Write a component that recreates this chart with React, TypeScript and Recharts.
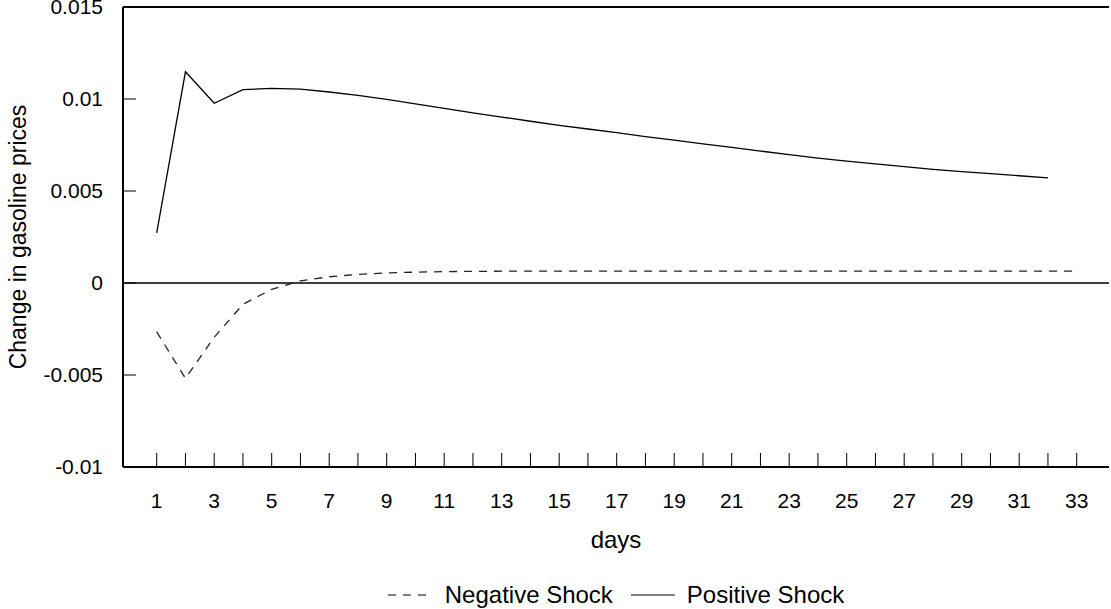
import { LineChart, Line, XAxis, YAxis, ReferenceLine, Legend } from "recharts"

const days = [1, 2, 3, 4, 5, 6, 7, 8, 9, 10, 11, 12, 13, 14, 15, 16, 17, 18, 19, 20, 21, 22, 23, 24, 25, 26, 27, 28, 29, 30, 31, 32, 33]

const negativeShock = [
  -0.00265, -0.00518, -0.00295, -0.00116, -0.00034, 0.00011, 0.00034, 0.00047, 0.00055, 0.00059,
  0.00062, 0.00063, 0.00064, 0.00064, 0.00065, 0.00065, 0.00065, 0.00065, 0.00065, 0.00065,
  0.00065, 0.00065, 0.00065, 0.00065, 0.00065, 0.00065, 0.00065, 0.00065, 0.00065, 0.00065,
  0.00065, 0.00065, 0.00065,
]

const positiveShock = [
  0.00272, 0.01148, 0.00977, 0.01051, 0.01058, 0.01054, 0.01038, 0.0102, 0.00998, 0.00974,
  0.00949, 0.00925, 0.00902, 0.00879, 0.00857, 0.00837, 0.00817, 0.00796, 0.00776, 0.00756,
  0.00737, 0.00717, 0.00698, 0.00679, 0.00662, 0.00647, 0.00632, 0.00618, 0.00605, 0.00594,
  0.00583, 0.00571,
]

const yTicks = [-0.01, -0.005, 0, 0.005, 0.01, 0.015]

const data = days.map((d, i) => ({
  day: d,
  negative: negativeShock[i],
  positive: positiveShock[i],
}))

const FONT = "'Liberation Sans', Arial, sans-serif"

const LegendContent = () => (
  <div
    style={{
      display: "flex",
      justifyContent: "center",
      alignItems: "center",
      fontFamily: FONT,
      fontSize: 24,
      color: "#000",
      height: 30,
    }}
  >
    <svg width={40} height={10} style={{ marginRight: 17 }}>
      <line x1={0} y1={5} x2={40} y2={5} stroke="#000" strokeWidth={1.2} strokeDasharray="8 7" />
    </svg>
    <span style={{ marginRight: 18 }}>Negative Shock</span>
    <svg width={44} height={10} style={{ marginRight: 12 }}>
      <line x1={0} y1={5} x2={44} y2={5} stroke="#000" strokeWidth={1.2} />
    </svg>
    <span>Positive Shock</span>
  </div>
)

export default function App() {
  return (
    <div style={{ position: "absolute", left: 0, top: 0, background: "#fff" }}>
      <LineChart width={1111} height={609} data={data} margin={{ top: 7, right: 2, left: 0, bottom: 42 }}>
        <XAxis
          dataKey="day"
          type="category"
          scale="point"
          padding={{ left: 33.7, right: 32.3 }}
          interval={0}
          tickFormatter={(v: number) => (v % 2 === 1 ? String(v) : "")}
          tickSize={-14}
          tickMargin={40}
          height={100}
          axisLine={{ stroke: "#000", strokeWidth: 2 }}
          tickLine={{ stroke: "#000", strokeWidth: 1 }}
          tick={{ fill: "#000", fontSize: 21, fontFamily: FONT }}
          label={{ value: "days", position: "insideBottom", offset: 19, fill: "#000", fontSize: 24, fontFamily: FONT }}
        />
        <YAxis
          type="number"
          domain={[-0.01, 0.015]}
          ticks={yTicks}
          interval={0}
          width={123}
          tickSize={-13}
          tickMargin={33}
          axisLine={{ stroke: "#000", strokeWidth: 2 }}
          tickLine={{ stroke: "#000", strokeWidth: 1 }}
          tick={{ fill: "#000", fontSize: 21, fontFamily: FONT }}
          label={{
            value: "Change in gasoline prices",
            angle: -90,
            position: "center",
            dx: -44,
            fill: "#000",
            fontSize: 23,
            fontFamily: FONT,
          }}
        />
        <YAxis
          yAxisId="right"
          orientation="right"
          type="number"
          domain={[-0.01, 0.015]}
          width={0}
          tick={false}
          tickLine={false}
          axisLine={{ stroke: "#444", strokeWidth: 1 }}
        />
        <ReferenceLine y={0.015} stroke="#000" strokeWidth={2} />
        <ReferenceLine y={0} stroke="#000" strokeWidth={1.3} />
        <Legend
          layout="horizontal"
          verticalAlign="middle"
          align="center"
          wrapperStyle={{ top: 580, left: 123, width: 986 }}
          content={() => <LegendContent />}
        />
        <Line
          dataKey="negative"
          stroke="#222"
          strokeWidth={1.3}
          strokeDasharray="8 7"
          dot={false}
          activeDot={false}
          isAnimationActive={false}
        />
        <Line
          dataKey="positive"
          stroke="#000"
          strokeWidth={1.3}
          dot={false}
          activeDot={false}
          isAnimationActive={false}
        />
      </LineChart>
    </div>
  )
}
